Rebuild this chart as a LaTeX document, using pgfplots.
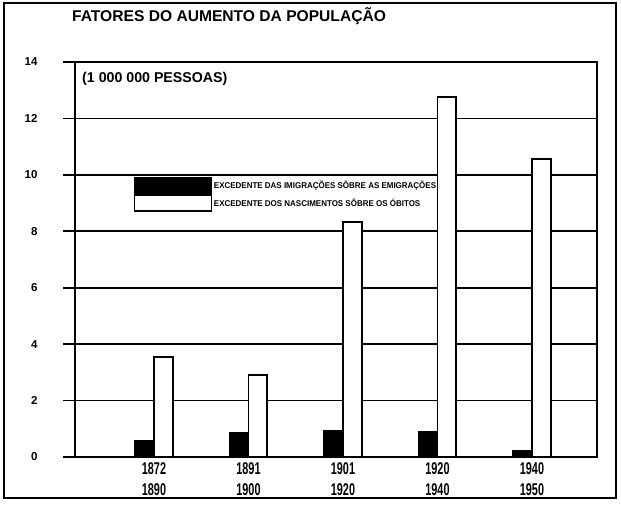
\documentclass[border=0pt]{standalone}
\usepackage{fontspec}
\setmainfont{Liberation Sans}
\newfontfamily\condfont{Liberation Sans}[FakeStretch=0.64]
\newfontfamily\legfont{Liberation Sans}[FakeStretch=0.95]
\usepackage{pgfplots}
\pgfplotsset{compat=1.18}
\begin{document}
\begin{tikzpicture}[x=1pt,y=1pt]
\path[use as bounding box] (0pt,0pt) rectangle (621pt,504pt);
\draw[line width=2pt] (4pt,6pt) rectangle (616pt,501pt);
\node[anchor=base west, inner sep=0pt, font=\bfseries\fontsize{15.6}{18}\selectfont] at (72pt,482pt) {FATORES DO AUMENTO DA POPULAÇÃO};
\begin{axis}[
  at={(75pt,47pt)}, anchor=south west,
  scale only axis, width=522pt, height=395pt,
  xmin=-0.836, xmax=4.688, ymin=0, ymax=14,
  ytick={0,2,...,14},
  ymajorgrids, grid style={black, line width=1.8pt},
  axis line style={black, line width=1.9pt},
  tick align=outside, major tick length=12pt,
  ytick pos=left,
  ytick style={black, line width=1.8pt},
  xtick={0,1,2,3,4},
  xticklabels={{1872\\1890},{1891\\1900},{1901\\1920},{1920\\1940},{1940\\1950}},
  xtick style={draw=none},
  xticklabel style={align=center, font=\condfont\bfseries\fontsize{17}{21}\selectfont, inner sep=0pt, yshift=7pt},
  /pgf/number format/assume math mode=true,
  yticklabel style={font=\bfseries\fontsize{11.5}{13}\selectfont, anchor=east, xshift=-22pt},
  legend style={at={(axis cs:-0.212,9.93)}, anchor=north west, draw=none, fill=none,
    inner sep=0pt, outer sep=0pt, row sep=0pt,
    nodes={inner sep=1.5pt, font=\legfont\bfseries\fontsize{8.4}{9}\selectfont}},
  legend cell align=left,
]
\addplot[ybar, bar width=0.2, bar shift=-0.1, fill=black, draw=black, line width=1.8pt,
  legend image code/.code={\draw[fill=black, draw=black, line width=1.5pt] (0pt,-8pt) rectangle (77pt,8pt);}]
  coordinates {(0,0.57) (1,0.86) (2,0.93) (3,0.89) (4,0.2)};
\addlegendentry{EXCEDENTE DAS IMIGRAÇÕES SÔBRE AS EMIGRAÇÕES}
\addplot[ybar, bar width=0.2, bar shift=0.1, fill=white, draw=black, line width=1.8pt,
  legend image code/.code={\draw[fill=white, draw=black, line width=1.5pt] (0pt,-8pt) rectangle (77pt,8pt);}]
  coordinates {(0,3.54) (1,2.92) (2,8.34) (3,12.77) (4,10.56)};
\addlegendentry{EXCEDENTE DOS NASCIMENTOS SÔBRE OS ÓBITOS}
\node[anchor=base west, inner sep=0pt, font=\bfseries\fontsize{14.2}{16}\selectfont] at (rel axis cs:0,1) [xshift=7pt, yshift=-21pt] {(1 000 000 PESSOAS)};
\end{axis}
\end{tikzpicture}
\end{document}
